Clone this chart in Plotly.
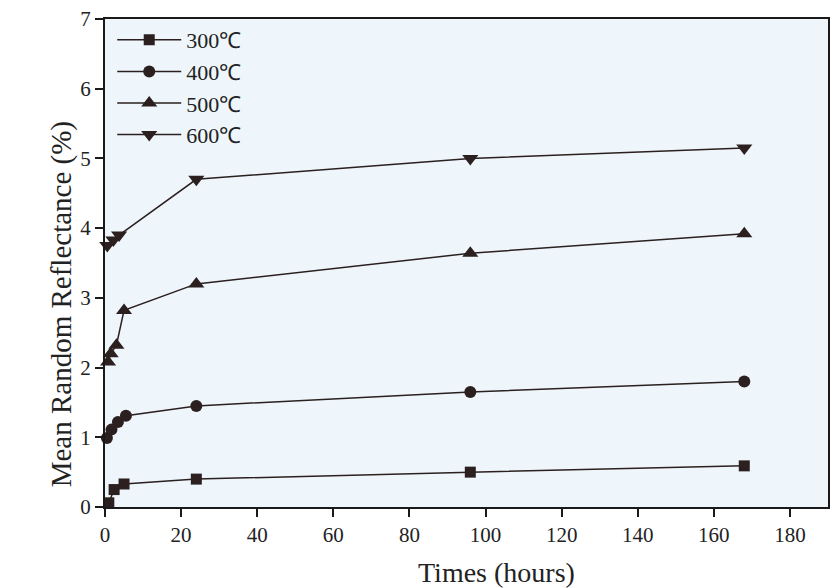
import plotly.graph_objects as go

t_300 = [1.0, 2.4, 5.0, 24, 96, 168]
r_300 = [0.06, 0.25, 0.33, 0.40, 0.50, 0.59]

t_400 = [0.5, 1.7, 3.4, 5.5, 24, 96, 168]
r_400 = [0.99, 1.11, 1.22, 1.31, 1.45, 1.65, 1.80]

t_500 = [0.8, 1.5, 3.0, 5.0, 24, 96, 168]
r_500 = [2.08, 2.20, 2.32, 2.82, 3.20, 3.64, 3.92]

t_600 = [0.6, 2.2, 3.7, 24, 96, 168]
r_600 = [3.75, 3.83, 3.90, 4.70, 5.00, 5.15]

dark = "#2b1f1f"
series = [
    ("300℃", t_300, r_300, "square", 11),
    ("400℃", t_400, r_400, "circle", 12),
    ("500℃", t_500, r_500, "triangle-up", 14),
    ("600℃", t_600, r_600, "triangle-down", 14),
]

fig = go.Figure()
for name, t, r, sym, sz in series:
    fig.add_trace(go.Scatter(
        x=t, y=r, name=name, mode="lines+markers",
        line=dict(color=dark, width=1.5),
        marker=dict(symbol=sym, size=sz, color=dark),
        cliponaxis=False,
    ))

axis_style = dict(
    showline=True, linecolor="#1a1a1a", linewidth=2, mirror=True,
    ticks="outside", ticklen=8, tickwidth=1.5, tickcolor="#1a1a1a",
    showgrid=False, zeroline=False,
    tickfont=dict(size=21, color="#222"),
)

fig.update_layout(
    width=837, height=588,
    margin=dict(l=105, r=7, t=14, b=81),
    paper_bgcolor="white",
    plot_bgcolor="#eef6fb",
    font=dict(family="Liberation Serif", color="#222"),
    showlegend=True,
    legend=dict(
        x=0.01, y=1.0, xanchor="left", yanchor="top",
        bgcolor="rgba(0,0,0,0)", font=dict(size=22),
        itemwidth=64, tracegroupgap=0,
    ),
    xaxis=dict(range=[0, 190], dtick=20, tick0=0, **axis_style),
    yaxis=dict(range=[0, 7], dtick=1, **axis_style),
)

# axis titles as annotations: in the reference they sit off-centre
fig.add_annotation(text="Times (hours)", xref="paper", yref="paper",
                   x=0.541, y=-0.134, xanchor="center", yanchor="middle",
                   showarrow=False, font=dict(size=28, color="#222"))
fig.add_annotation(text="Mean Random Reflectance (%)", xref="paper", yref="paper",
                   x=-0.059, y=0.416, xanchor="center", yanchor="middle",
                   textangle=-90, showarrow=False,
                   font=dict(size=29, color="#222"))

# page body has a default 8px margin; drop it so the plot sits where the reference does
fig.write_html("out.html", config={"displayModeBar": False},
               post_script="document.body.style.margin='0px';")
